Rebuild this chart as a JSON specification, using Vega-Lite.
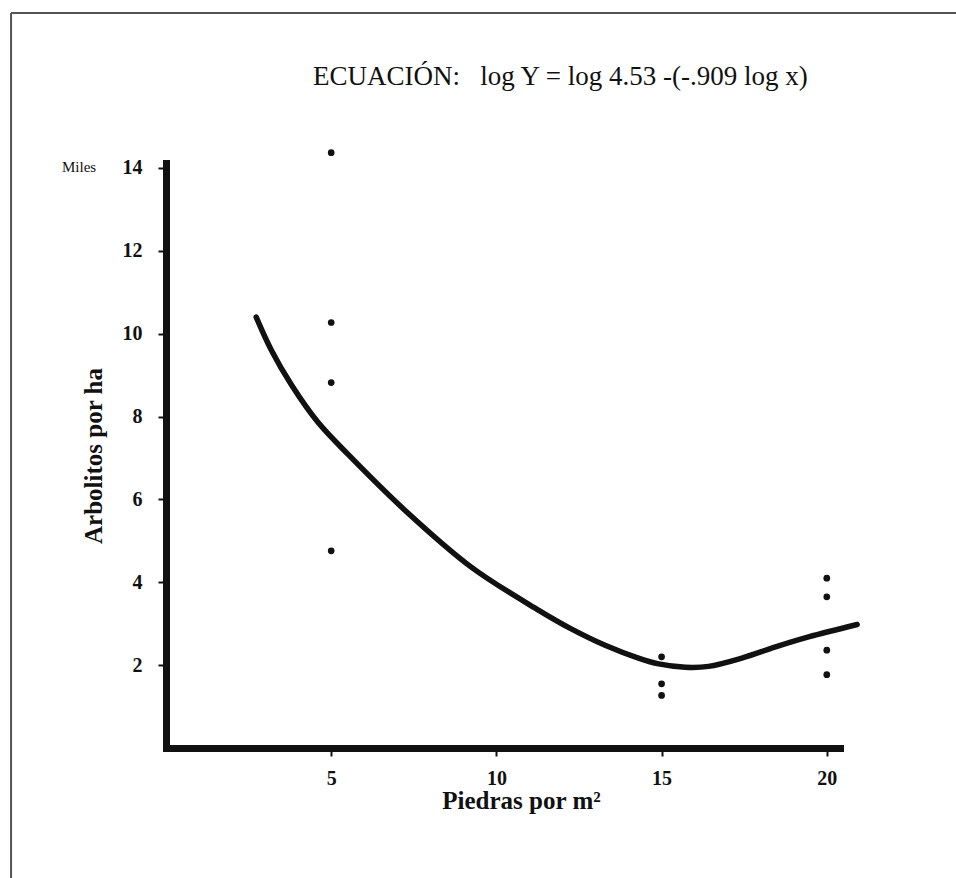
{
  "$schema": "https://vega.github.io/schema/vega-lite/v6.json",
  "width": 674,
  "height": 585,
  "autosize": {"type": "none"},
  "padding": {"left": 166, "top": 163, "right": 116, "bottom": 130},
  "background": "white",
  "config": {
    "view": {"stroke": null},
    "axis": {
      "grid": false,
      "domainColor": "#111",
      "domainWidth": 7,
      "domainCap": "square",
      "tickColor": "#111",
      "tickWidth": 2,
      "tickSize": 8,
      "labelFont": "Liberation Serif",
      "labelFontWeight": "bold",
      "labelFontSize": 20,
      "labelColor": "#111",
      "titleFont": "Liberation Serif",
      "titleFontWeight": "bold",
      "titleFontSize": 25,
      "titleColor": "#111"
    }
  },
  "datasets": {
    "puntos": [
      {"piedras": 5, "arbolitos": 14.37},
      {"piedras": 5, "arbolitos": 10.27},
      {"piedras": 5, "arbolitos": 8.82},
      {"piedras": 5, "arbolitos": 4.76},
      {"piedras": 15, "arbolitos": 2.2},
      {"piedras": 15, "arbolitos": 1.55},
      {"piedras": 15, "arbolitos": 1.27},
      {"piedras": 20, "arbolitos": 4.1},
      {"piedras": 20, "arbolitos": 3.65},
      {"piedras": 20, "arbolitos": 2.36},
      {"piedras": 20, "arbolitos": 1.77}
    ],
    "curva": [
      {"piedras": 2.73, "arbolitos": 10.4},
      {"piedras": 3.19, "arbolitos": 9.6},
      {"piedras": 3.8, "arbolitos": 8.76},
      {"piedras": 4.6, "arbolitos": 7.86},
      {"piedras": 5.52, "arbolitos": 7.08},
      {"piedras": 7.23, "arbolitos": 5.74},
      {"piedras": 9.25, "arbolitos": 4.36},
      {"piedras": 11.27, "arbolitos": 3.33},
      {"piedras": 12.28, "arbolitos": 2.87},
      {"piedras": 13.29, "arbolitos": 2.48},
      {"piedras": 14.3, "arbolitos": 2.17},
      {"piedras": 14.91, "arbolitos": 2.03},
      {"piedras": 15.72, "arbolitos": 1.95},
      {"piedras": 16.42, "arbolitos": 1.97},
      {"piedras": 17.43, "arbolitos": 2.17},
      {"piedras": 18.45, "arbolitos": 2.44},
      {"piedras": 19.45, "arbolitos": 2.68},
      {"piedras": 20.92, "arbolitos": 2.98}
    ]
  },
  "layer": [
    {
      "data": {"values": [{}]},
      "mark": {"type": "rule", "color": "#555", "strokeWidth": 2},
      "encoding": {
        "x": {"datum": -4.69, "type": "quantitative", "scale": {"domain": [0, 20.4], "nice": false, "zero": false}},
        "y": {"datum": 17.74, "type": "quantitative", "scale": {"domain": [0, 14.12], "nice": false, "zero": false}},
        "y2": {"datum": -3.2}
      }
    },
    {
      "data": {"values": [{}]},
      "mark": {"type": "rule", "color": "#555", "strokeWidth": 2},
      "encoding": {
        "x": {"datum": -4.69, "type": "quantitative"},
        "x2": {"datum": 24.1},
        "y": {"datum": 17.74, "type": "quantitative"}
      }
    },
    {
      "data": {"name": "curva"},
      "mark": {"type": "line", "color": "#111", "strokeWidth": 5.5, "strokeCap": "round", "interpolate": "catmull-rom", "clip": false},
      "encoding": {
        "x": {"field": "piedras", "type": "quantitative",
          "axis": {"values": [5, 10, 15, 20], "title": "Piedras por m²", "labelPadding": 12, "titlePadding": 0, "titleX": 355}},
        "y": {"field": "arbolitos", "type": "quantitative",
          "axis": {"values": [2, 4, 6, 8, 10, 12, 14], "title": "Arbolitos por ha", "labelPadding": 16, "titlePadding": 16}}
      }
    },
    {
      "data": {"name": "puntos"},
      "mark": {"type": "circle", "color": "#111", "size": 45, "opacity": 1},
      "encoding": {
        "x": {"field": "piedras", "type": "quantitative"},
        "y": {"field": "arbolitos", "type": "quantitative"}
      }
    },
    {
      "data": {"values": [{}]},
      "mark": {"type": "text", "text": "Miles", "font": "Liberation Serif", "fontSize": 15, "color": "#111", "align": "center", "baseline": "middle"},
      "encoding": {
        "x": {"datum": -2.63, "type": "quantitative"},
        "y": {"datum": 14.02, "type": "quantitative"}
      }
    },
    {
      "data": {"values": [{}]},
      "mark": {"type": "text", "text": "ECUACIÓN:\u00a0\u00a0\u00a0log Y = log 4.53 -(-.909 log x)", "font": "Liberation Serif", "fontSize": 27, "color": "#111", "align": "left", "baseline": "alphabetic"},
      "encoding": {
        "x": {"datum": 4.45, "type": "quantitative"},
        "y": {"datum": 16.0, "type": "quantitative"}
      }
    }
  ]
}
